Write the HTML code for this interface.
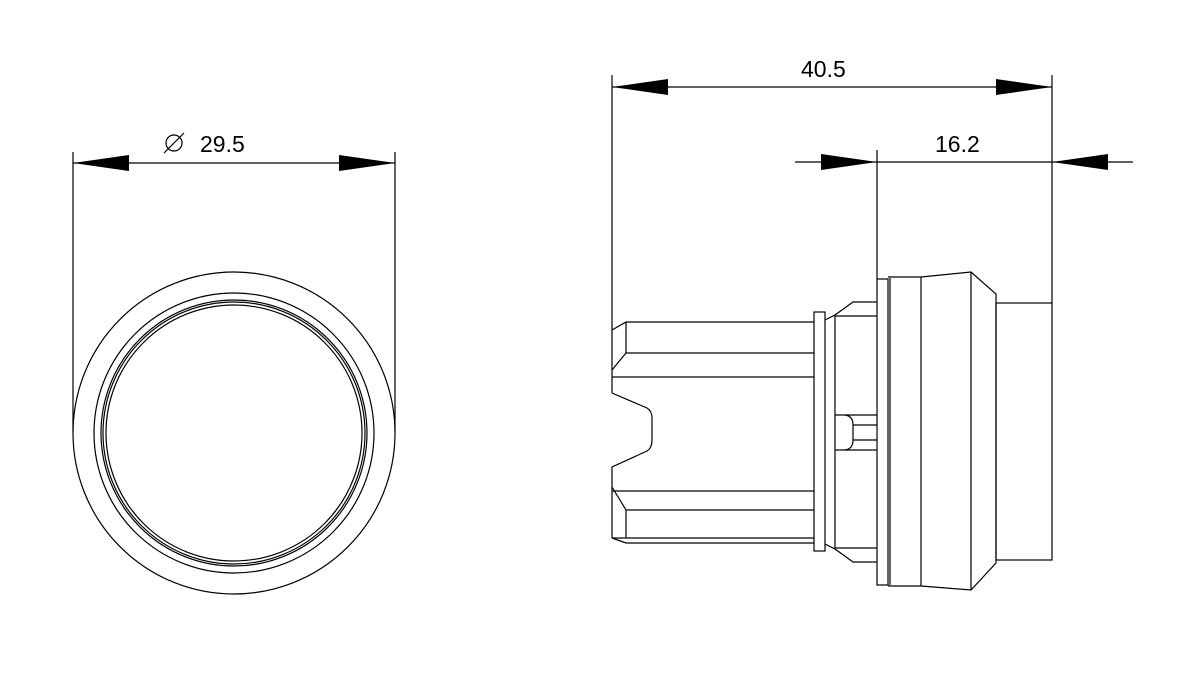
<!DOCTYPE html>
<html><head><style>html,body{margin:0;padding:0;background:#fff}</style></head><body>
<svg width="1185" height="700" xmlns="http://www.w3.org/2000/svg" style="display:block">
<g fill="none" stroke="#000" stroke-width="1.2">
<line x1="73" y1="152" x2="73" y2="432"/>
<line x1="395" y1="152" x2="395" y2="432"/>
<line x1="73" y1="163" x2="395" y2="163"/>
<circle cx="234" cy="433" r="161"/>
<circle cx="234" cy="433" r="140"/>
<circle cx="234" cy="433" r="133"/>
<circle cx="234" cy="433" r="131"/>
<circle cx="234" cy="433" r="128"/>
<line x1="612" y1="75" x2="612" y2="330"/>
<line x1="1052" y1="75" x2="1052" y2="303"/>
<line x1="612" y1="87" x2="1052" y2="87"/>
<line x1="795" y1="162" x2="1133" y2="162"/>
<line x1="877" y1="150" x2="877" y2="279"/>
<polyline points="612,330 626,322 814,322"/>
<polyline points="612,370 626,353 814,353"/>
<line x1="612" y1="377" x2="814" y2="377"/>
<line x1="612" y1="330" x2="612" y2="393"/>
<path d="M612,393 L647,408 Q652,411 652,418 L652,440 Q652,448 647,451 L612,467 L612,538"/>
<line x1="612" y1="491" x2="814" y2="491"/>
<polyline points="612,487 626,510 814,510"/>
<line x1="626" y1="322" x2="626" y2="353"/>
<line x1="626" y1="510" x2="626" y2="538"/>
<line x1="612" y1="538" x2="814" y2="538"/>
<polyline points="612,538 626,543 814,543"/>
<rect x="814" y="312" width="11" height="239"/>
<polyline points="825,320 835,315 835,549 825,544"/>
<polyline points="835,315 853,302 877,302"/>
<line x1="835" y1="316" x2="877" y2="316"/>
<polyline points="835,549 853,562 877,562"/>
<line x1="835" y1="548" x2="877" y2="548"/>
<path d="M835,415 L845,415 Q853,416 853,425 L853,440 Q853,449 845,450 L835,450"/>
<line x1="845" y1="415" x2="877" y2="415"/>
<line x1="845" y1="450" x2="877" y2="450"/>
<line x1="853" y1="425" x2="877" y2="425"/>
<line x1="853" y1="440" x2="877" y2="440"/>
<rect x="877" y="279" width="11" height="306"/>
<polyline points="890,278 890,585"/>
<path d="M888,277 L921,277 L971,272 L996,294 L996,563 L971,590 L921,586 L888,586"/>
<line x1="921" y1="277" x2="921" y2="586"/>
<line x1="971" y1="272" x2="971" y2="590"/>
<rect x="996" y="303" width="56" height="257"/>
<circle cx="174" cy="143" r="8"/>
<line x1="164" y1="153" x2="184" y2="133"/>
</g>
<g fill="#000">
<polygon points="73,163 129,155 129,171"/>
<polygon points="395,163 339,155 339,171"/>
<polygon points="612,87 668,79 668,95"/>
<polygon points="1052,87 996,79 996,95"/>
<polygon points="877,162 821,154 821,170"/>
<polygon points="1052,162 1108,154 1108,170"/>
</g>
<g font-family="Liberation Sans, sans-serif" font-size="23" fill="#000">
<text x="200" y="152">29.5</text>
<text x="801" y="77">40.5</text>
<text x="935" y="152">16.2</text>
</g>
</svg>
</body></html>
